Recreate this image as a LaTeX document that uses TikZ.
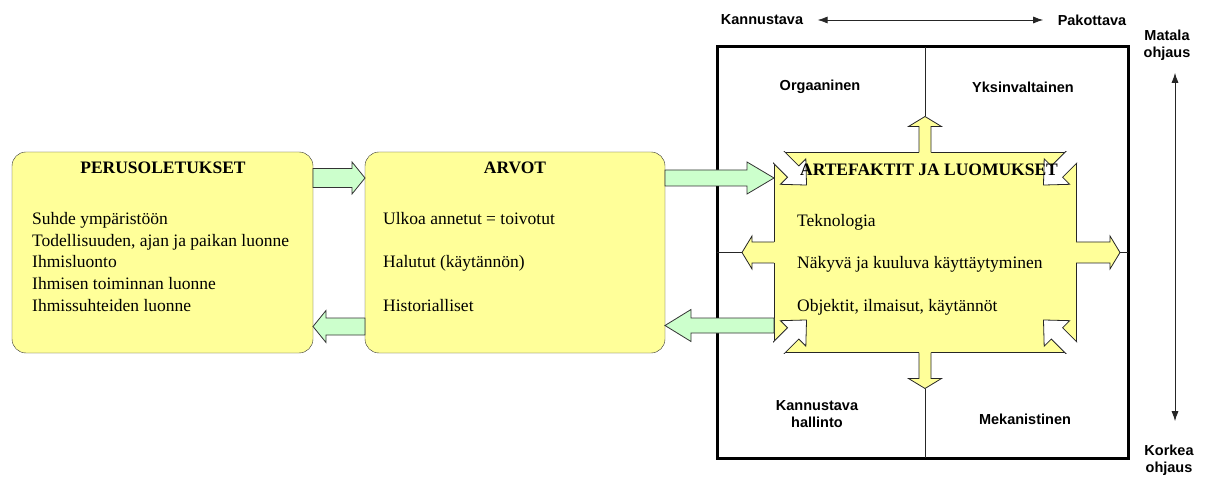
\documentclass[tikz,border=0pt]{standalone}
\usepackage{fontspec}
\setmainfont{Liberation Serif}
\setsansfont{Liberation Sans}
\usetikzlibrary{arrows.meta,calc}

\definecolor{boxyellow}{RGB}{255,255,153}
\definecolor{arrowgreen}{RGB}{204,255,204}

\tikzset{
  roundbox/.style={draw=black!80, fill=boxyellow, rounded corners=14pt, minimum width=301pt, minimum height=201pt, inner sep=0pt, outer sep=0pt},
  titletext/.style={font=\fontsize{17.5}{21}\selectfont\bfseries, anchor=base, inner sep=0pt},
  listtext/.style={align=left, anchor=north west, inner sep=0pt},
  axislabel/.style={font=\fontsize{14.5}{17}\selectfont\sffamily\bfseries, align=center},
  thinline/.style={draw=black!85, line width=0.8pt},
  greenarrow/.style={draw=black!80, line width=0.8pt, fill=arrowgreen, line join=miter},
  cornerarrow/.style={draw=black!85, line width=0.8pt, fill=white, line join=miter},
  axisarrow/.style={draw=black!85, line width=0.8pt, {Latex[length=10pt,width=7pt]}-{Latex[length=10pt,width=7pt]}},
}

% block arrow between two points on one horizontal line
\newcommand{\blockarrow}[4]{%
  \draw[greenarrow] let \p1=(#1), \p2=(#2), \n1={(\x2>\x1)*2-1} in
    (\x1,\y2+#3pt) -- (\x2-\n1*#4pt,\y2+#3pt) -- (\x2-\n1*#4pt,\y2+16pt) -- (\x2,\y2)
    -- (\x2-\n1*#4pt,\y2-16pt) -- (\x2-\n1*#4pt,\y2-#3pt) -- (\x1,\y2-#3pt) -- cycle;}

% yellow arrow growing out of the artefact box
\newcommand{\outarrow}[5]{%
  \begin{scope}[shift={(#2)}, rotate=#3]
    \fill[boxyellow] (-2,#5) -- (#4-10,#5) -- (#4-10,16.5) -- (#4,0) -- (#4-10,-16.5) -- (#4-10,-#5) -- (-2,-#5) -- cycle;
    \draw[thinline] (0,#5) -- (#4-10,#5) -- (#4-10,16.5) -- (#4,0) -- (#4-10,-16.5) -- (#4-10,-#5) -- (0,-#5);
    \coordinate (#1) at (#4,0);
  \end{scope}}

% white arrow pointing into a corner of the artefact box
\newcommand{\cornerarrow}[2]{%
  \begin{scope}[shift={(#1)}, rotate=#2]
    \draw[cornerarrow] (-20,8) -- (27,8) -- (27,18) -- (46,0) -- (27,-18) -- (27,-8) -- (-20,-8) -- cycle;
  \end{scope}}

\begin{document}
\begin{tikzpicture}[x=1pt, y=1pt]
\useasboundingbox (0,0) rectangle (1207,477);

% frame of the four quadrants
\node[draw, line width=3pt, minimum width=411pt, minimum height=411pt, inner sep=0pt, outer sep=0pt] (frame) at (922.5,224.5) {};

% the three levels
\node[roundbox] (peru) at (162.5,224.5) {};
\node[roundbox, minimum width=300pt] (arvot) at (515,224.5) {};
\node[draw=black!85, line width=0.8pt, fill=boxyellow, minimum width=302pt, minimum height=200pt, inner sep=0pt, outer sep=0pt] (art) at (925,224.5) {};

\outarrow{uptip}{art.north}{90}{36}{6}
\outarrow{downtip}{art.south}{-90}{36}{6}
\outarrow{lefttip}{art.west}{180}{32}{10.5}
\outarrow{righttip}{art.east}{0}{44}{10.5}

\begin{scope}
  \clip ([shift={(-1,-1)}]art.south west) rectangle ([shift={(1,1)}]art.north east);
  \cornerarrow{art.north west}{-45}
  \cornerarrow{art.north east}{-135}
  \cornerarrow{art.south west}{45}
  \cornerarrow{art.south east}{135}
\end{scope}

\draw[thinline] (frame.north -| art.north) -- (uptip);
\draw[thinline] (downtip) -- (frame.south -| art.south);
\draw[thinline] (frame.west |- art.west) -- (lefttip);
\draw[thinline] (righttip) -- (frame.east |- art.east);

% texts of the boxes
\node[titletext] (perutitle) at (163,303) {PERUSOLETUKSET};
\node[listtext, font=\fontsize{17.5}{21.7}\selectfont] (perulist) at (32,265)
  {Suhde ympäristöön\\Todellisuuden, ajan ja paikan luonne\\Ihmisluonto\\Ihmisen toiminnan luonne\\Ihmissuhteiden luonne};
\node[titletext] (arvottitle) at (515,303) {ARVOT};
\node[listtext, font=\fontsize{17.5}{43.5}\selectfont] (arvotlist) at (383,265)
  {Ulkoa annetut = toivotut\\Halutut (käytännön)\\Historialliset};
\node[titletext] (arttitle) at (929,301) {ARTEFAKTIT JA LUOMUKSET};
\node[listtext, font=\fontsize{17.5}{42.5}\selectfont] (artlist) at (797,263)
  {Teknologia\\Näkyvä ja kuuluva käyttäytyminen\\Objektit, ilmaisut, käytännöt};

% green arrows between the levels
\blockarrow{[yshift=74.5pt]peru.east}{[yshift=74.5pt]arvot.west}{9.5}{13}
\blockarrow{[yshift=-74pt]arvot.west}{[yshift=-74pt]peru.east}{8.5}{13}
\blockarrow{[yshift=74.5pt]arvot.east}{[yshift=74.5pt]art.west}{8}{27}
\blockarrow{[yshift=-73pt]art.west}{[yshift=-73pt]arvot.east}{7.5}{26}

% quadrant labels
\node[axislabel] (organic) at (820,390) {Orgaaninen};
\node[axislabel] (autocratic) at (1023,390) {Yksinvaltainen};
\node[axislabel] (encouraging) at (817,63) {Kannustava\\hallinto};
\node[axislabel] (mechanistic) at (1025,58) {Mekanistinen};

% axes
\node[axislabel] (kann) at (762,457) {Kannustava};
\node[axislabel] (pako) at (1092,457) {Pakottava};
\draw[axisarrow, shorten <=11pt, shorten >=11pt] (kann) -- (pako);
\node[axislabel] (matala) at (1167,432) {Matala\\ohjaus};
\node[axislabel] (korkea) at (1169,17) {Korkea\\ohjaus};
\draw[axisarrow, shorten <=9pt, shorten >=20pt] ([xshift=8pt]matala.south) -- ([xshift=6pt]korkea.north);
\end{tikzpicture}
\end{document}
